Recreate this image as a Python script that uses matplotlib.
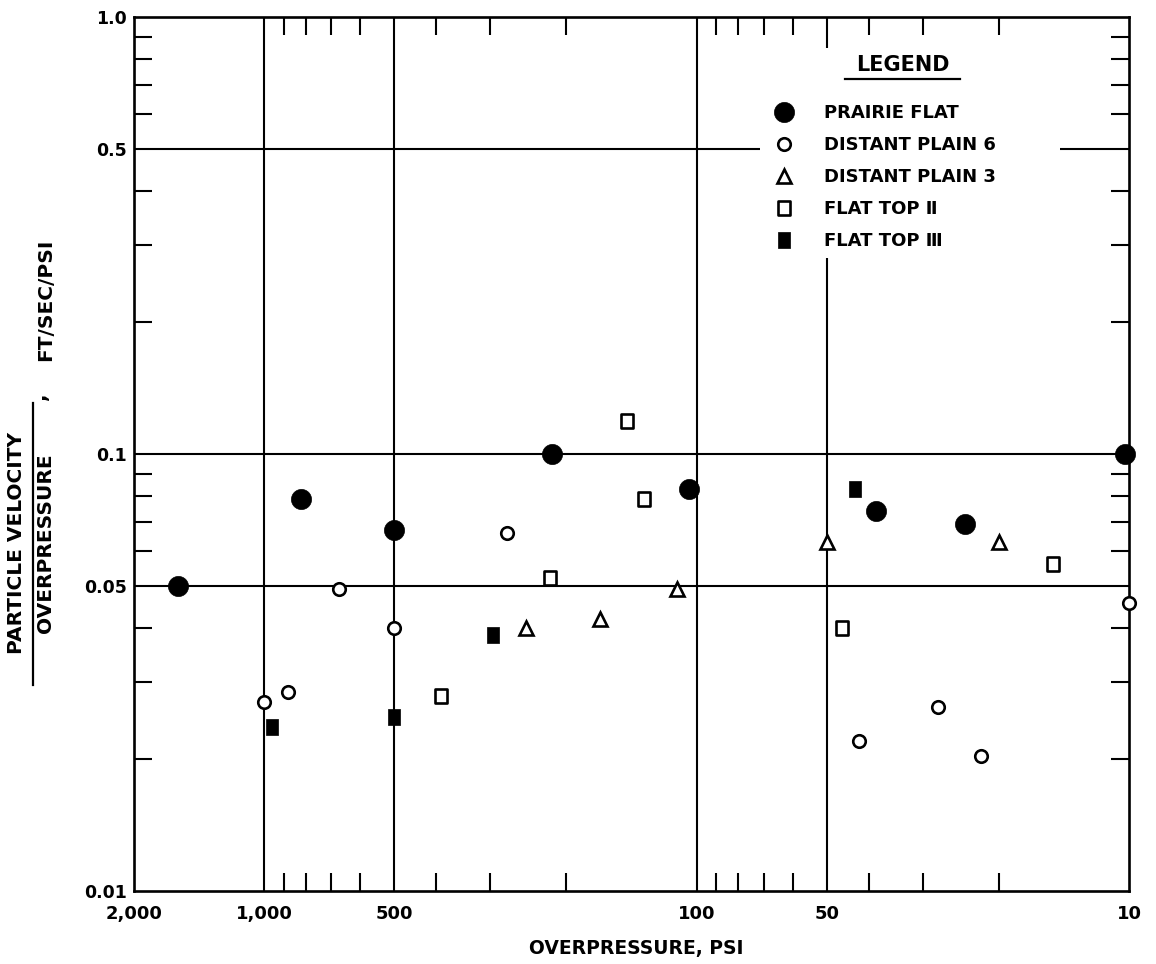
import matplotlib
matplotlib.use("Agg")
import matplotlib.pyplot as plt
from matplotlib.ticker import FixedLocator, FixedFormatter, NullFormatter
from matplotlib.lines import Line2D
from matplotlib.patches import Rectangle
from matplotlib.path import Path

plt.rcParams['font.family'] = ['DejaVu Sans']
plt.rcParams['font.weight'] = 'bold'

# Peak overpressure (psi) against particle velocity / overpressure (ft/sec/psi)
prairie_flat_p = [1580, 820, 500, 216, 104, 38.5, 24, 10.2]
prairie_flat_v = [0.050, 0.079, 0.067, 0.100, 0.083, 0.074, 0.069, 0.100]

distant_plain6_p = [1000, 880, 670, 500, 275, 42, 27.7, 22, 10.0]
distant_plain6_v = [0.027, 0.0285, 0.049, 0.040, 0.066, 0.022, 0.0263, 0.0204, 0.0455]

distant_plain3_p = [248, 167, 111, 50, 20]
distant_plain3_v = [0.040, 0.042, 0.049, 0.063, 0.063]

flat_top2_p = [390, 218, 145, 132, 46, 15]
flat_top2_v = [0.028, 0.052, 0.119, 0.079, 0.040, 0.056]

flat_top3_p = [960, 500, 295, 43]
flat_top3_v = [0.0237, 0.025, 0.0385, 0.083]

series_labels = ["PRAIRIE FLAT", "DISTANT PLAIN 6", "DISTANT PLAIN 3",
                 "FLAT TOP \u2161", "FLAT TOP \u2162"]

x_major = [2000, 1000, 500, 100, 50, 10]
x_major_labels = ["2,000", "1,000", "500", "100", "50", "10"]
x_minor = [900, 800, 700, 600, 400, 300, 200, 90, 80, 70, 60, 40, 30, 20]
y_major = [1.0, 0.5, 0.1, 0.05, 0.01]
y_major_labels = ["1.0", "0.5", "0.1", "0.05", "0.01"]
y_minor = [0.9, 0.8, 0.7, 0.6, 0.4, 0.3, 0.2,
           0.09, 0.08, 0.07, 0.06, 0.04, 0.03, 0.02]
x_grid = [1000, 500, 100, 50]
y_grid = [0.5, 0.1, 0.05]

W, H = 1156, 964
fig = plt.figure(figsize=(W / 100, H / 100), dpi=100)
ax = fig.add_axes([134 / W, 1 - 891 / H, 995 / W, 874 / H])
ax.set_xscale('log')
ax.set_yscale('log')
ax.set_xlim(2000, 10)
ax.set_ylim(0.01, 1.0)
ax.set_axisbelow(False)

for s in ax.spines.values():
    s.set_linewidth(1.9)

# ruled grid lines
for gx in x_grid:
    ax.axvline(gx, color='black', lw=1.5, zorder=1)
for gy in y_grid:
    ax.axhline(gy, color='black', lw=1.5, zorder=1)

# blank panel behind the legend
ax.add_patch(Rectangle((0.629, 0.7243), 0.3017, 0.2402, transform=ax.transAxes,
                       facecolor='white', edgecolor='none', zorder=2))

tall_box = Path([(-0.38, -0.5), (0.38, -0.5), (0.38, 0.5), (-0.38, 0.5), (-0.38, -0.5)],
                [Path.MOVETO, Path.LINETO, Path.LINETO, Path.LINETO, Path.CLOSEPOLY])

h1, = ax.plot(prairie_flat_p, prairie_flat_v, ls='none', marker='o', ms=14.5,
              mfc='black', mec='black', mew=0.5, zorder=3, clip_on=False)
h2, = ax.plot(distant_plain6_p, distant_plain6_v, ls='none', marker='o', ms=9,
              mfc='white', mec='black', mew=1.9, zorder=3, clip_on=False)
h3, = ax.plot(distant_plain3_p, distant_plain3_v, ls='none', marker='^', ms=10,
              mfc='white', mec='black', mew=1.9, zorder=3)
h4, = ax.plot(flat_top2_p, flat_top2_v, ls='none', marker=tall_box, ms=10.5,
              mfc='white', mec='black', mew=1.9, zorder=3)
h5, = ax.plot(flat_top3_p, flat_top3_v, ls='none', marker=tall_box, ms=12,
              mfc='black', mec='black', mew=0.5, zorder=3)

ax.xaxis.set_major_locator(FixedLocator(x_major))
ax.xaxis.set_major_formatter(FixedFormatter(x_major_labels))
ax.xaxis.set_minor_locator(FixedLocator(x_minor))
ax.xaxis.set_minor_formatter(NullFormatter())
ax.yaxis.set_major_locator(FixedLocator(y_major))
ax.yaxis.set_major_formatter(FixedFormatter(y_major_labels))
ax.yaxis.set_minor_locator(FixedLocator(y_minor))
ax.yaxis.set_minor_formatter(NullFormatter())

ax.tick_params(which='both', direction='in', top=True, right=True)
ax.tick_params(which='major', length=0)
ax.tick_params(which='minor', length=13, width=1.5)
ax.tick_params(axis='x', which='major', labelsize=13, pad=10)
ax.tick_params(axis='y', which='major', labelsize=12.5, pad=5)

ax.set_xlabel("OVERPRESSURE, PSI", fontsize=13.5, fontweight='bold')
ax.xaxis.set_label_coords(0.5045, -0.055)

leg = ax.legend([h1, h2, h3, h4, h5], series_labels, loc='upper left',
                bbox_to_anchor=(0.6397, 0.9006), frameon=False,
                prop={'size': 13, 'weight': 'bold'},
                handlelength=1.5, handletextpad=1.47, labelspacing=0.78,
                borderpad=0, borderaxespad=0, numpoints=1)
leg.set_zorder(5)

ax.text(0.7729, 0.945, "LEGEND", transform=ax.transAxes, ha='center', va='center',
        fontsize=15, fontweight='bold', zorder=5)
ax.add_line(Line2D([0.7146, 0.830], [0.929, 0.929], transform=ax.transAxes,
                   color='black', lw=1.6, zorder=5))

# y-axis label written as a fraction
fig.text(17 / W, 1 - 543 / H, "PARTICLE VELOCITY", rotation=90, ha='center',
         va='center', fontsize=14.5, fontweight='bold')
fig.text(46 / W, 1 - 543 / H, "OVERPRESSURE", rotation=90, ha='center',
         va='center', fontsize=14.5, fontweight='bold')
fig.add_artist(Line2D([33 / W, 33 / W], [1 - 403 / H, 1 - 685 / H],
                      transform=fig.transFigure, color='black', lw=1.6))
fig.text(40 / W, 1 - 396 / H, ",", rotation=90, ha='center', va='center',
         fontsize=14.5, fontweight='bold')
fig.text(46 / W, 1 - 300 / H, "FT/SEC/PSI", rotation=90, ha='center',
         va='center', fontsize=14.5, fontweight='bold')

fig.savefig("out.png", dpi=100, facecolor='white')
